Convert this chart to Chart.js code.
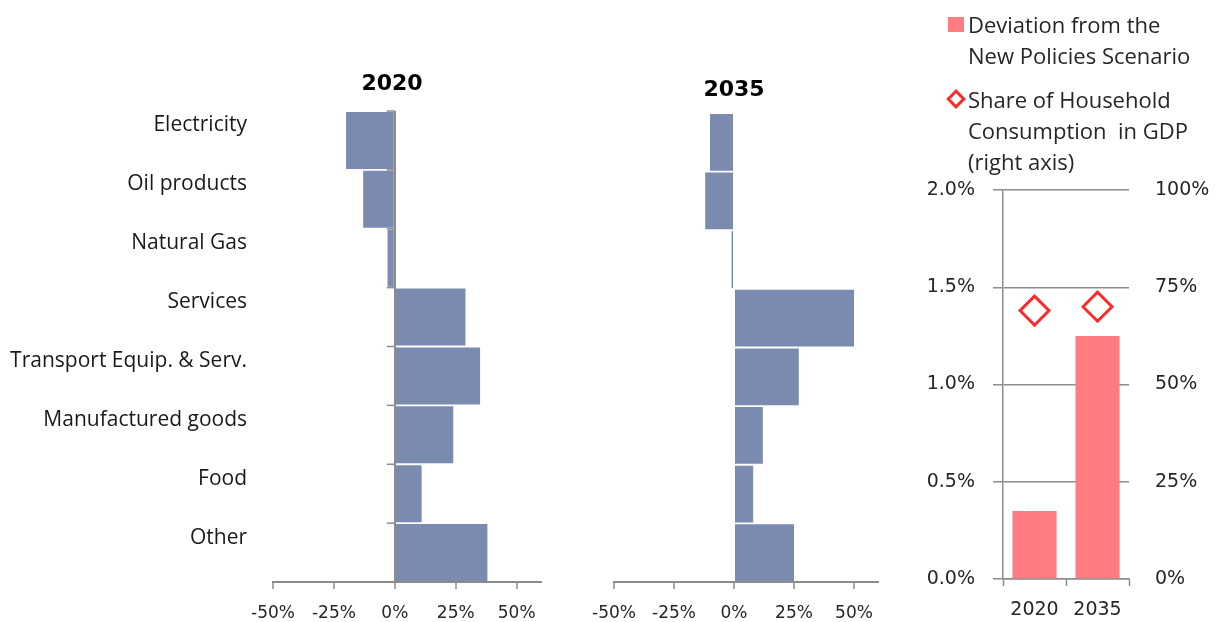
<!DOCTYPE html>
<html lang="en">
<head>
  <meta charset="utf-8">
  <title>Household consumption by sector</title>
  <script src="https://cdn.jsdelivr.net/npm/chart.js@4.4.0/dist/chart.umd.min.js"></script>
  <style>
    body { margin: 0; background: #fff; }
    #wrap { position: relative; width: 1217px; height: 622px; overflow: hidden; }
    canvas { position: absolute; top: 0; }
    #c2020 { left: 0; }
    #c2035 { left: 574px; }
    #cGdp  { left: 880px; }
    #legend {
      position: absolute; left: 947px; top: 8.5px; margin: 0; padding: 0; list-style: none;
      font-family: "Open Sans", sans-serif; font-size: 22px; line-height: 31px; color: #262626;
    }
    #legend li { position: relative; padding-left: 21px; margin-bottom: 13px; }
    #legend li div { white-space: pre; }
    #legend .box { position: absolute; left: 1px; top: 8px; width: 16px; height: 15px; }
    #legend .diamond {
      position: absolute; left: 2px; top: 8.5px; width: 14px; height: 14px; box-sizing: border-box;
      border: 3px solid; background: #fff; transform: rotate(45deg);
    }
  </style>
</head>
<body>
  <div id="wrap">
    <canvas id="c2020" width="784" height="622"></canvas>
    <canvas id="c2035" width="320" height="622"></canvas>
    <canvas id="cGdp" width="337" height="622"></canvas>
    <ul id="legend"></ul>
  </div>

  <script>
    // sectors, change vs. New Policies Scenario (%)
    const categories = ['Electricity', 'Oil products', 'Natural Gas', 'Services',
                        'Transport Equip. & Serv.', 'Manufactured goods', 'Food', 'Other'];
    const change2020 = [-20, -13, -3, 29, 35, 24, 11, 38];
    const change2035 = [-10, -12, -1, 50, 27, 12, 8, 25];
    const sectorTicks = [-50, -25, 0, 25, 50];

    // right panel
    const years = ['2020', '2035'];
    const deviation = [0.35, 1.25];        // % (left axis)
    const householdShare = [69, 70];       // % of GDP (right axis)
    const leftTicks = [0, 0.5, 1, 1.5, 2];
    const rightTicks = [0, 25, 50, 75, 100];
    const deviationLabel = ['Deviation from the', 'New Policies Scenario'];
    const shareLabel = ['Share of Household', 'Consumption  in GDP', '(right axis)'];

    const BAR = '#7b8bb0';
    const SALMON = '#ff7c80';
    const RED = '#ff2b2b';
    const GREY = '#8c8c8c';
    const TEXT = '#262626';

    Chart.defaults.animation = false;
    Chart.defaults.responsive = false;
    Chart.defaults.font.family = '"DejaVu Sans", sans-serif';
    Chart.defaults.color = TEXT;
    Chart.defaults.plugins.tooltip.enabled = false;
    Chart.defaults.plugins.legend.display = false;

    // little tick marks on the zero line at each category boundary
    const zeroTicks = {
      id: 'zeroTicks',
      afterDatasetsDraw(chart) {
        const {ctx, scales: {x, y}} = chart;
        const x0 = x.getPixelForValue(0);
        ctx.save();
        ctx.strokeStyle = GREY;
        ctx.lineWidth = 1.5;
        for (let i = 0; i <= categories.length; i++) {
          const yy = y.getPixelForValue(i - 0.5);
          ctx.beginPath();
          ctx.moveTo(x0 - 8, yy);
          ctx.lineTo(x0, yy);
          ctx.stroke();
        }
        ctx.restore();
      }
    };

    // html legend built from the datasets of the right panel
    const htmlLegend = {
      id: 'htmlLegend',
      afterUpdate(chart) {
        const ul = document.getElementById('legend');
        ul.innerHTML = '';
        chart.data.datasets.forEach(ds => {
          const li = document.createElement('li');
          const mark = document.createElement('span');
          if (ds.pointStyle === 'rectRot') {
            mark.className = 'diamond';
            mark.style.borderColor = ds.pointBorderColor;
          } else {
            mark.className = 'box';
            mark.style.background = ds.backgroundColor;
          }
          li.appendChild(mark);
          [].concat(ds.label).forEach(line => {
            const d = document.createElement('div');
            d.textContent = line;
            li.appendChild(d);
          });
          ul.appendChild(li);
        });
      }
    };

    // empty axis used only to reserve room beside the plot
    const hiddenAxis = width => ({
      display: true,
      afterFit: s => { s.width = width; },
      ticks: { display: false },
      grid: { display: false, drawTicks: false },
      border: { display: false }
    });

    function sectorChart(id, year, values, opts) {
      const yAxis = opts.showLabels ? {
        afterFit: s => { s.width = opts.leftWidth; },
        grid: { display: false, drawTicks: false },
        border: { display: false },
        ticks: { font: { family: '"Open Sans", sans-serif', size: 21 }, color: '#1a1a1a', padding: 26, labelOffset: -15 }
      } : hiddenAxis(opts.leftWidth);
      const scales = {
        x: {
          min: -50, max: 60,
          afterBuildTicks: s => { s.ticks = sectorTicks.map(v => ({ value: v })); },
          afterFit: s => { s.height = 40; },
          ticks: { callback: v => v + '%', font: { size: 17 }, padding: 14, maxRotation: 0 },
          grid: {
            color: c => (opts.zeroLine && c.tick && c.tick.value === 0) ? GREY : 'transparent',
            lineWidth: 2, tickColor: GREY, tickLength: 7, tickWidth: 1.5
          },
          border: { color: GREY, width: 2 }
        },
        y: yAxis,
        yPad: Object.assign({ position: 'right' }, hiddenAxis(opts.rightWidth))
      };

      return new Chart(document.getElementById(id), {
        type: 'bar',
        data: {
          labels: categories,
          datasets: [{ data: values, backgroundColor: BAR, barPercentage: 0.97, categoryPercentage: 1 }]
        },
        options: {
          indexAxis: 'y',
          plugins: {
            title: {
              display: true, text: year, color: '#000',
              font: { size: 22, weight: 'bold' },
              padding: opts.titlePad
            }
          },
          scales
        },
        plugins: opts.zeroLine ? [zeroTicks] : []
      });
    }

    sectorChart('c2020', '2020', change2020, {
      leftWidth: 273, rightWidth: 243,
      titlePad: { top: 70.8, bottom: 13.8 },
      showLabels: true, zeroLine: true
    });

    sectorChart('c2035', '2035', change2035, {
      leftWidth: 40, rightWidth: 16,
      titlePad: { top: 76.8, bottom: 9.8 },
      showLabels: false, zeroLine: false
    });

    new Chart(document.getElementById('cGdp'), {
      type: 'bar',
      data: {
        labels: years,
        datasets: [
          { label: deviationLabel, data: deviation, backgroundColor: SALMON, pointStyle: 'rect',
            barPercentage: 0.7, categoryPercentage: 1, yAxisID: 'y' },
          { type: 'line', label: shareLabel, data: householdShare, yAxisID: 'y1', showLine: false,
            pointStyle: 'rectRot', pointRadius: 14.5, pointBorderWidth: 3,
            pointBorderColor: RED, pointBackgroundColor: '#fff', borderColor: RED, backgroundColor: '#fff' }
        ]
      },
      options: {
        layout: { padding: { left: 0, right: 0, top: 190, bottom: 0 } },
        scales: {
          x: {
            afterFit: s => { s.height = 43; },
            grid: { offset: true, drawOnChartArea: false, tickLength: 7, color: GREY, tickWidth: 1.5 },
            border: { color: GREY, width: 1.5 },
            ticks: { font: { size: 19 }, padding: 13 }
          },
          y: {
            position: 'left', min: 0, max: 2,
            afterBuildTicks: s => { s.ticks = leftTicks.map(v => ({ value: v })); },
            afterFit: s => { s.width = 123; },
            grid: { color: GREY, lineWidth: 1.5, tickLength: 10 },
            border: { color: GREY, width: 1.5 },
            ticks: { callback: v => v.toFixed(1) + '%', font: { size: 19 }, padding: 18 }
          },
          y1: {
            position: 'right', min: 0, max: 100,
            afterBuildTicks: s => { s.ticks = rightTicks.map(v => ({ value: v })); },
            afterFit: s => { s.width = 88; },
            grid: { display: false, drawTicks: false },
            border: { display: false },
            ticks: { callback: v => v + '%', font: { size: 19 }, padding: 26 }
          }
        }
      },
      plugins: [htmlLegend]
    });
  </script>
</body>
</html>
